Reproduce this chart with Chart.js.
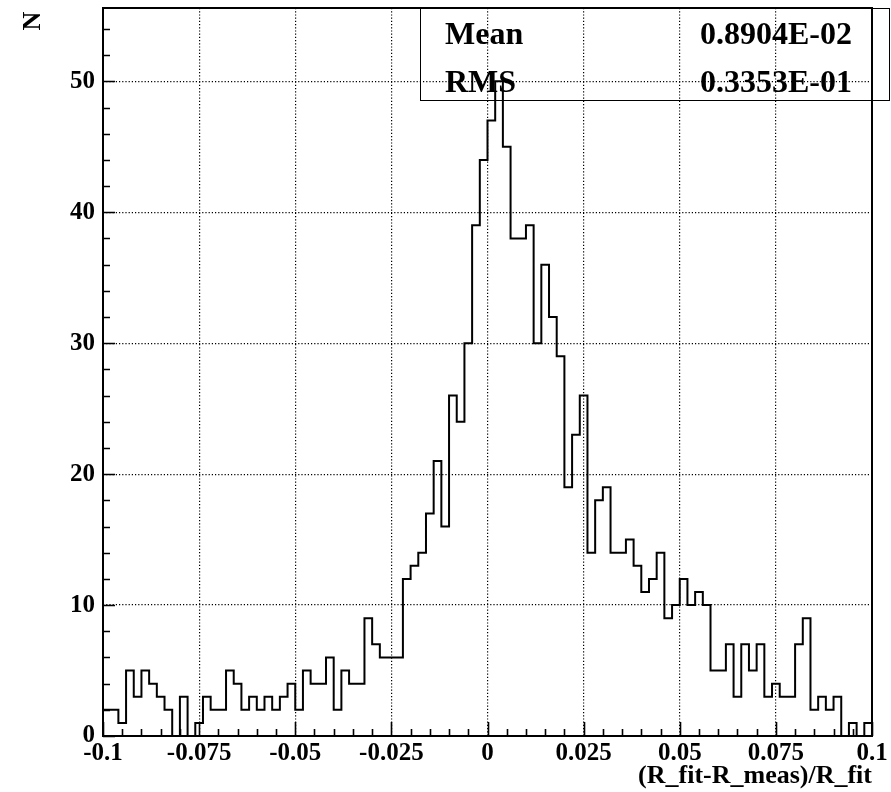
<!DOCTYPE html>
<html>
<head>
<meta charset="utf-8">
<script src="https://cdn.jsdelivr.net/npm/chart.js@4.4.1/dist/chart.umd.min.js"></script>
<style>
    html, body { margin: 0; padding: 0; background: #fff; }
    #wrap { width: 891px; height: 792px; position: relative; }
</style>
</head>
<body>
<div id="wrap"><canvas id="histo"></canvas></div>
<script>
    // histogram binning
    var xMin  = -0.1;
    var xMax  = 0.1;
    var nBins = 100;

    // bin contents (left to right)
    var counts = [
        2, 2, 1, 5, 3, 5, 4, 3, 2, 0,
        3, 0, 1, 3, 2, 2, 5, 4, 2, 3,
        2, 3, 2, 3, 4, 2, 5, 4, 4, 6,
        2, 5, 4, 4, 9, 7, 6, 6, 6, 12,
        13, 14, 17, 21, 16, 26, 24, 30, 39, 44,
        47, 50, 45, 38, 38, 39, 30, 36, 32, 29,
        19, 23, 26, 14, 18, 19, 14, 14, 15, 13,
        11, 12, 14, 9, 10, 12, 10, 11, 10, 5,
        5, 7, 3, 7, 5, 7, 3, 4, 3, 3,
        7, 9, 2, 3, 2, 3, 0, 1, 0, 1
    ];

    var xTicks      = [-0.1, -0.075, -0.05, -0.025, 0, 0.025, 0.05, 0.075, 0.1];
    var xTickLabels = ['-0.1', '-0.075', '-0.05', '-0.025', '0', '0.025', '0.05', '0.075', '0.1'];
    var yTicks      = [0, 10, 20, 30, 40, 50];
    var yMax        = 55.6;

    var xTitle = '(R_fit-R_meas)/R_fit';
    var yTitle = 'N';

    var statsLabels = ['Mean', 'RMS'];
    var statsValues = ['0.8904E-02', '0.3353E-01'];

    var serif = '"Liberation Serif", "Times New Roman", serif';

    /* ------------------------------------------------------------------
       Outline points: each bin's left edge, horizontal at its own count
    ------------------------------------------------------------------ */
    var binW = (xMax - xMin) / nBins;
    var points = [{ x: xMin, y: 0 }];
    counts.forEach(function (c, i) {
        points.push({ x: xMin + i * binW, y: c });
    });
    points.push({ x: xMax, y: counts[nBins - 1] });
    points.push({ x: xMax, y: 0 });

    /* ------------------------------------------------------------------
       Frame, inner ticks, stats box, y title (ROOT look)
    ------------------------------------------------------------------ */
    var rootFrame = {
        id: 'rootFrame',
        afterDraw: function (chart) {
            var ctx = chart.ctx;
            var a   = chart.chartArea;
            var xs  = chart.scales.x;
            var ys  = chart.scales.y;
            var i, v, px, py, len;

            ctx.save();
            ctx.strokeStyle = '#000';
            ctx.lineWidth = 1.6;
            ctx.beginPath();
            for (i = 0; i <= 40; i++) {
                v   = xMin + i * 0.005;
                px  = Math.round(xs.getPixelForValue(v)) + 0.5;
                len = (i % 5 === 0) ? 14 : 7;
                ctx.moveTo(px, a.bottom);
                ctx.lineTo(px, a.bottom - len);
            }
            for (i = 0; i * 2 < yMax; i++) {
                v   = i * 2;
                py  = Math.round(ys.getPixelForValue(v)) + 0.5;
                len = (v % 10 === 0) ? 12 : 7;
                ctx.moveTo(a.left, py);
                ctx.lineTo(a.left + len, py);
            }
            ctx.stroke();

            // frame
            ctx.lineWidth = 2;
            ctx.strokeRect(a.left, a.top, a.right - a.left, a.bottom - a.top);

            // stats box
            ctx.lineWidth = 1;
            ctx.strokeRect(420.5, a.top + 0.5, 469, 92);

            ctx.fillStyle = '#000';
            ctx.font = 'bold 32px ' + serif;
            ctx.textBaseline = 'alphabetic';
            for (i = 0; i < statsLabels.length; i++) {
                ctx.textAlign = 'left';
                ctx.fillText(statsLabels[i], 445, a.top + 36 + i * 48);
                ctx.textAlign = 'right';
                ctx.fillText(statsValues[i], 852, a.top + 36 + i * 48);
            }

            // y axis title, rotated, top left
            ctx.translate(33, 21);
            ctx.rotate(-Math.PI / 2);
            ctx.font = 'bold 26px ' + serif;
            ctx.textAlign = 'center';
            ctx.textBaseline = 'middle';
            ctx.fillText(yTitle, 0, 0);
            ctx.restore();
        }
    };

    function edgeless(lo, hi) {
        return function (c) {
            if (!c.tick) return '#000';
            return (c.tick.value <= lo + 1e-9 || c.tick.value >= hi - 1e-9) ? 'rgba(0,0,0,0)' : '#000';
        };
    }

    new Chart(document.getElementById('histo').getContext('2d'), {
        type: 'line',
        data: {
            datasets: [{
                data        : points,
                stepped     : 'before',
                borderColor : '#000',
                borderWidth : 2,
                pointRadius : 0,
                fill        : false
            }]
        },
        options: {
            responsive         : true,
            maintainAspectRatio: false,
            animation          : false,
            layout             : { padding: { top: 8, right: 19, left: 0, bottom: 0 } },
            plugins            : { legend: { display: false }, tooltip: { enabled: false } },
            scales: {
                x: {
                    type : 'linear',
                    min  : xMin,
                    max  : xMax,
                    afterBuildTicks: function (s) {
                        s.ticks = xTicks.map(function (t) { return { value: t }; });
                    },
                    afterFit: function (s) {
                        s.height = 56;
                        s.paddingLeft = 0;
                        s.paddingRight = 0;
                    },
                    ticks: {
                        autoSkip   : false,
                        maxRotation: 0,
                        padding    : 3,
                        color      : '#000',
                        font       : { family: serif, size: 25, weight: 'bold' },
                        callback   : function (val) {
                            for (var j = 0; j < xTicks.length; j++) {
                                if (Math.abs(xTicks[j] - val) < 1e-9) return xTickLabels[j];
                            }
                            return '';
                        }
                    },
                    grid  : { color: edgeless(xMin, xMax), lineWidth: 1.2, drawTicks: false },
                    border: { display: false, dash: [1.2, 2] },
                    title : {
                        display: true,
                        text   : xTitle,
                        align  : 'end',
                        color  : '#000',
                        font   : { family: serif, size: 26, weight: 'bold' },
                        padding: { top: 0, bottom: 0 }
                    }
                },
                y: {
                    type: 'linear',
                    min : 0,
                    max : yMax,
                    afterBuildTicks: function (s) {
                        s.ticks = yTicks.map(function (t) { return { value: t }; });
                    },
                    afterFit: function (s) {
                        s.width = 103;
                        s.paddingTop = 0;
                        s.paddingBottom = 0;
                    },
                    ticks: {
                        autoSkip: false,
                        padding : 8,
                        color   : '#000',
                        font    : { family: serif, size: 25, weight: 'bold' },
                        callback: function (val) { return String(val); }
                    },
                    grid  : { color: edgeless(0, yMax), lineWidth: 1.2, drawTicks: false },
                    border: { display: false, dash: [1.2, 2] }
                }
            }
        },
        plugins: [rootFrame]
    });
</script>
</body>
</html>
